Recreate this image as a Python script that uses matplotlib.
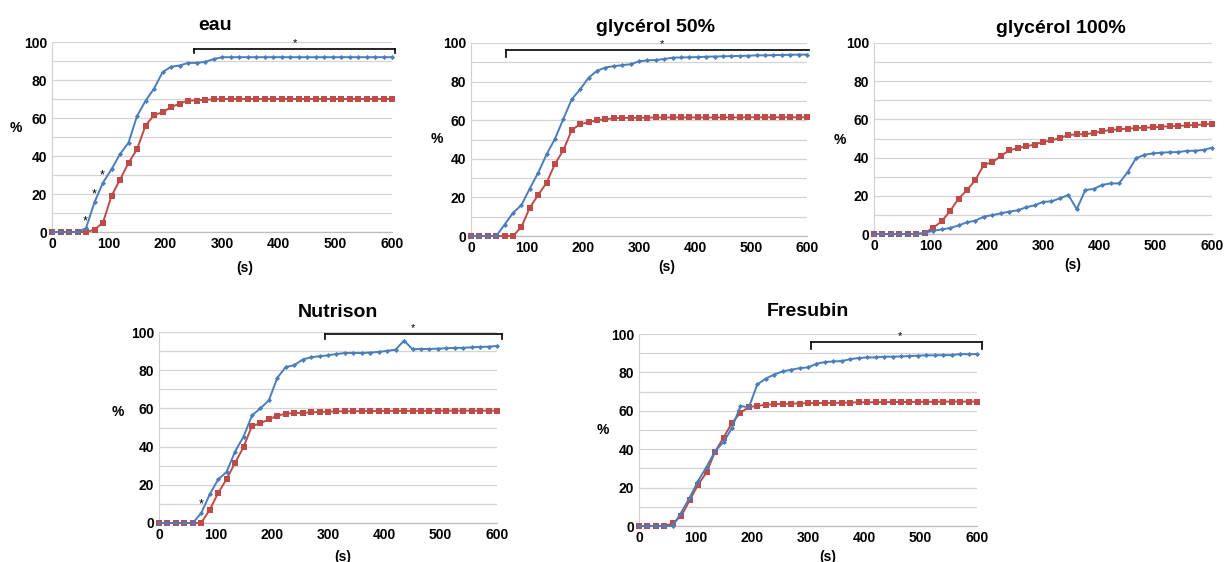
import numpy as np
import matplotlib
matplotlib.use("Agg")
import matplotlib.pyplot as plt

# ---------------- data ----------------
time_s = list(range(0, 601, 15))  # 41 points

eau_blue = [0, 0, 0, 0, 2, 15.7, 26, 33, 41, 47, 61, 69, 75.5, 84, 87, 87.6, 89, 89, 89.5, 91,
            92, 92, 92, 92, 92, 92, 92, 92, 92, 92, 92, 92, 92, 92, 92, 92, 92, 92, 92, 92, 92]
eau_red = [0, 0, 0, 0, 0, 1.2, 5, 19, 27.5, 36.4, 43.5, 56, 61.5, 63, 65.7, 67.5, 69.2, 69.2, 69.6, 69.8,
           70, 70, 70, 70, 70, 70, 70, 70, 70, 70, 70, 70, 70, 70, 70, 70, 70, 70, 70, 70, 70]

g50_blue = [0, 0, 0, 0, 5.9, 12, 16, 24.6, 32.8, 42.3, 50.4, 60.7, 70.9, 76, 82, 85.6, 87.3, 88, 88.5, 89,
            90.5, 91, 91.2, 91.7, 92.4, 92.5, 92.6, 92.7, 92.9, 93.0, 93.1, 93.2, 93.3, 93.4, 93.6, 93.6,
            93.7, 93.8, 93.9, 94.0, 94.0]
g50_red = [0, 0, 0, 0, 0, 0, 4.7, 14.7, 21.3, 27.6, 37.4, 44.5, 55, 57.9, 59, 60, 60.5, 61, 61.2, 61.2,
           61.3, 61.3, 61.4, 61.4, 61.4, 61.4, 61.4, 61.4, 61.4, 61.4, 61.4, 61.4, 61.4, 61.5, 61.5, 61.5,
           61.5, 61.5, 61.5, 61.5, 61.5]

g100_blue = [0, 0, 0, 0, 0, 0, 0.5, 1.7, 2.4, 3.1, 4.5, 6.1, 7, 9.1, 9.9, 10.8, 11.7, 12.4, 14, 15,
             16.8, 17.1, 18.7, 20.4, 13, 23, 23.6, 25.7, 26.5, 26.5, 32.3, 39.6, 41.5, 42.2, 42.6, 42.8,
             42.9, 43.5, 43.6, 44, 45.2]
g100_red = [0, 0, 0, 0, 0, 0, 0.5, 3.3, 6.6, 12, 18.5, 22.9, 28.3, 36.3, 37.5, 40.8, 43.8, 44.9, 45.9, 46.8,
            48.2, 49, 50.3, 51.8, 52.2, 52.2, 52.9, 53.8, 54.5, 54.8, 55.1, 55.5, 55.7, 55.8, 56.2, 56.4,
            56.5, 56.9, 57, 57.4, 57.6]

nut_blue = [0, 0, 0, 0, 0, 5.2, 15, 22.8, 26.8, 37.4, 45.2, 56.3, 60, 64.2, 76, 81.7, 82.6, 85.6, 86.8, 87.3,
            87.8, 88.5, 89, 89, 89, 89.2, 89.6, 90.1, 90.8, 95.5, 91, 91.1, 91.1, 91.3, 91.5, 91.7,
            91.7, 92, 92.2, 92.3, 92.7]
nut_red = [0, 0, 0, 0, 0, 0, 7, 15.7, 23, 31.5, 39.7, 50.8, 52.2, 54.3, 56.2, 57.2, 57.6, 57.7, 57.9, 58.1,
           58.3, 58.4, 58.5, 58.5, 58.6, 58.6, 58.6, 58.7, 58.7, 58.7, 58.7, 58.7, 58.7, 58.8, 58.8, 58.8,
           58.8, 58.8, 58.8, 58.8, 58.8]

fre_blue = [0, 0, 0, 0, 0, 7, 14.8, 23.5, 30.8, 39, 43.7, 51, 62.5, 61.8, 73.7, 76.8, 78.9, 80.5, 81.4, 82.2,
            82.6, 84.5, 85.4, 85.7, 85.9, 86.9, 87.5, 87.8, 87.8, 88.2, 88.2, 88.3, 88.5, 88.7, 88.9, 88.9,
            89, 89, 89.5, 89.5, 89.5]
fre_red = [0, 0, 0, 0, 1.4, 5.2, 13.4, 21.6, 27.9, 38.7, 46, 53.7, 59, 62, 62.5, 63.2, 63.4, 63.6, 63.8, 63.8,
           64, 64, 64.1, 64.1, 64.2, 64.3, 64.4, 64.4, 64.5, 64.5, 64.6, 64.6, 64.6, 64.7, 64.7, 64.7,
           64.8, 64.8, 64.8, 64.8, 64.8]

titles = ["eau", "glycérol 50%", "glycérol 100%", "Nutrison", "Fresubin"]
x_ticks = [0, 100, 200, 300, 400, 500, 600]
y_ticks = [0, 20, 40, 60, 80, 100]

# significance brackets: (start, end, y level, tick depth, left tick, right tick, star x)
brackets = [
    (250, 605, 96.5, 2.5, True, True, 429),
    (62, 604, 96.2, 3.7, True, False, 341),
    None,
    (294, 608, 98.8, 2.6, True, True, 451),
    (306, 608, 95.6, 3.4, True, True, 463),
]
# point-wise stars (t, y)
point_stars = [
    [(59, 5.5), (74, 20), (89, 30)],
    [], [],
    [(74, 9.6)],
    [],
]

series = [
    (eau_blue, eau_red),
    (g50_blue, g50_red),
    (g100_blue, g100_red),
    (nut_blue, nut_red),
    (fre_blue, fre_red),
]

# ---------------- layout ----------------
W, H = 1224, 562
# pixel boxes: x0, x1, y_top(100), y_bottom(0)
boxes = [
    (52, 392, 42, 232),
    (471, 807, 43, 236),
    (874, 1212, 43, 234),
    (159, 497, 332, 523),
    (639, 977, 334, 526),
]
title_pos = [(0.479, 1.063), (0.548, 1.057), (0.553, 1.052), (0.530, 1.079), (0.5, 1.094)]
ylab_pos = [(-0.106, 0.547), (-0.101, 0.503), (-0.10, 0.49), (-0.121, 0.581), (-0.107, 0.5)]
xlab_pos = [(0.568, -0.19), (0.583, -0.16), (0.589, -0.162), (0.544, -0.178), (0.559, -0.161)]

BLUE = "#4a7ebb"
RED = "#be4b48"
FONT = ["Liberation Sans", "DejaVu Sans"]

fig = plt.figure(figsize=(W / 100, H / 100), dpi=100)

for i, (blue, red) in enumerate(series):
    x0, x1, yt, yb = boxes[i]
    ax = fig.add_axes([x0 / W, 1 - yb / H, (x1 - x0) / W, (yb - yt) / H])
    ax.set_xlim(0, 600)
    ax.set_ylim(0, 100)
    ax.set_yticks(y_ticks)
    ax.set_yticks(list(range(10, 100, 20)), minor=True)
    ax.set_xticks(x_ticks)
    ax.grid(True, which="both", axis="y", color="#d4d4d4", linewidth=0.9, zorder=0)
    ax.set_axisbelow(True)
    for s in ["top", "right"]:
        ax.spines[s].set_visible(False)
    ax.spines["left"].set_color("#d0d0d0")
    ax.spines["left"].set_linewidth(0.8)
    ax.spines["bottom"].set_color("#bcbcbc")
    ax.spines["bottom"].set_linewidth(0.9)
    ax.tick_params(axis="both", which="both", length=0)
    ax.tick_params(axis="y", pad=3.5)
    ax.tick_params(axis="x", pad=3.5)
    for lab in ax.get_xticklabels() + ax.get_yticklabels():
        lab.set_fontfamily(FONT)
        lab.set_fontweight("bold")
        lab.set_fontsize(10)

    ax.plot(time_s, red, color=RED, linewidth=1.4, marker="s", markersize=4.2,
            markeredgewidth=0, clip_on=False, zorder=3)
    ax.plot(time_s, blue, color=BLUE, linewidth=1.4, marker="D", markersize=2.6,
            markeredgewidth=0, clip_on=False, zorder=4)

    tx, ty = title_pos[i]
    ax.text(tx, ty, titles[i], transform=ax.transAxes, ha="center", va="baseline",
            fontsize=14, fontweight="bold", family=FONT)
    lx, ly = ylab_pos[i]
    ax.text(lx, ly, "%", transform=ax.transAxes, ha="center", va="center",
            fontsize=10, fontweight="bold", family=FONT)
    sx, sy = xlab_pos[i]
    ax.text(sx, sy, "(s)", transform=ax.transAxes, ha="center", va="center",
            fontsize=10, fontweight="bold", family=FONT)

    br = brackets[i]
    if br is not None:
        a, b, yl, d, lt, rt, star_x = br
        xs = [a, b]
        ax.plot(xs, [yl, yl], color="black", linewidth=1.2, clip_on=False, zorder=5)
        if lt:
            ax.plot([a, a], [yl, yl - d], color="black", linewidth=1.2, clip_on=False, zorder=5)
        if rt:
            ax.plot([b, b], [yl, yl - d], color="black", linewidth=1.2, clip_on=False, zorder=5)
        ax.text(star_x, yl + 0.5, "*", ha="center", va="bottom", fontsize=8, family=FONT,
                clip_on=False)
    for (st, sv) in point_stars[i]:
        ax.text(st, sv, "*", ha="center", va="center", fontsize=9, family=FONT, clip_on=False)

fig.savefig("out.png", dpi=100)
